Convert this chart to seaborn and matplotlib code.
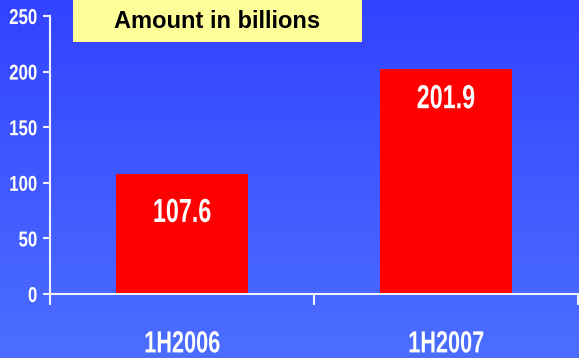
import numpy as np
import pandas as pd
import matplotlib
matplotlib.use("Agg")
import matplotlib.pyplot as plt
import seaborn as sns
from matplotlib.colors import LinearSegmentedColormap
from matplotlib.patches import Rectangle
from matplotlib.patheffects import AbstractPathEffect
from matplotlib.transforms import Affine2D

# data
periods = ["1H2006", "1H2007"]
amounts = [107.6, 201.9]
y_ticks = [0, 50, 100, 150, 200, 250]
title_text = "Amount in billions"
label_drop = [32, 24]   # how far below the bar top each value label sits


class Squeeze(AbstractPathEffect):
    # narrow the text horizontally (there is no Arial Narrow here)
    def __init__(self, sx, anchor="center"):
        super().__init__()
        self.sx = sx
        self.anchor = anchor

    def draw_path(self, renderer, gc, tpath, affine, rgbFace=None):
        ext = tpath.get_extents(affine)
        cx = ext.x1 if self.anchor == "right" else (ext.x0 + ext.x1) / 2
        new = affine + Affine2D().translate(-cx, 0).scale(self.sx, 1).translate(cx, 0)
        renderer.draw_path(gc, tpath, new, rgbFace)


df = pd.DataFrame({"Period": periods, "Amount": amounts})

sns.set_style("white")
plt.rcParams["font.family"] = ["Liberation Sans", "DejaVu Sans"]

W, H = 579, 358
fig = plt.figure(figsize=(W / 100, H / 100), dpi=100)

# blue gradient background
bg = fig.add_axes([0, 0, 1, 1], zorder=0)
grad_cmap = LinearSegmentedColormap.from_list("", ["#3343FF", "#4C6EFF"])
bg.imshow(np.linspace(0, 1, 256).reshape(-1, 1), aspect="auto", cmap=grad_cmap,
          extent=[0, 1, 0, 1], origin="upper")
bg.set_axis_off()

# main plot area
x0, x1, y_top, y_bot = 50, 578, 16, 294
ax = fig.add_axes([x0 / W, (H - y_bot) / H, (x1 - x0) / W, (y_bot - y_top) / H], zorder=1)
ax.patch.set_alpha(0)
sns.barplot(data=df, x="Period", y="Amount", color="#FF0000", width=0.5,
            saturation=1, edgecolor="none", linewidth=0, ax=ax, zorder=3)
ax.set_xlim(-0.5, 1.5)
ax.set_ylim(0, 250)
ax.set_xlabel("")
ax.set_ylabel("")

for s in ["top", "right"]:
    ax.spines[s].set_visible(False)
for s in ["left", "bottom"]:
    ax.spines[s].set_color("#F0F0FF")
    ax.spines[s].set_linewidth(1.5)
    ax.spines[s].set_zorder(4)

ax.set_yticks(y_ticks)
ax.set_yticklabels([str(v) for v in y_ticks], color="white", fontsize=15.5,
                   fontweight="bold")
ax.tick_params(axis="y", direction="out", length=5, width=1.5, color="#F0F0FF",
               pad=4, left=True)
for t in ax.get_yticklabels():
    t.set_path_effects([Squeeze(0.78, "right")])

# ticks between categories, labels at category centres
ax.set_xticks([-0.5, 0.5, 1.5])
ax.set_xticklabels([])
ax.set_xticks([0, 1], minor=True)
ax.set_xticklabels(periods, minor=True, color="white", fontsize=22,
                   fontweight="bold")
ax.tick_params(axis="x", which="major", direction="out", length=8, width=1.5,
               color="#F0F0FF", bottom=True)
ax.tick_params(axis="x", which="minor", length=0, pad=25.5)
for t in ax.get_xticklabels(minor=True):
    t.set_path_effects([Squeeze(0.71)])

# value labels inside bars
for i, (v, d) in enumerate(zip(amounts, label_drop)):
    ax.text(i, v - d, f"{v}", ha="center", va="center_baseline", color="white",
            fontsize=24, fontweight="bold", zorder=5,
            path_effects=[Squeeze(0.7)])

# title box
fig.patches.append(Rectangle((73 / W, (H - 42) / H), (362 - 73) / W, 42 / H,
                             transform=fig.transFigure, facecolor="#FFFF99",
                             edgecolor="none", zorder=2))
fig.text(217 / W, (H - 18.5) / H, title_text, ha="center", va="center_baseline",
         fontsize=17, fontweight="bold", color="black", zorder=3)

fig.savefig("out.png", dpi=100)
